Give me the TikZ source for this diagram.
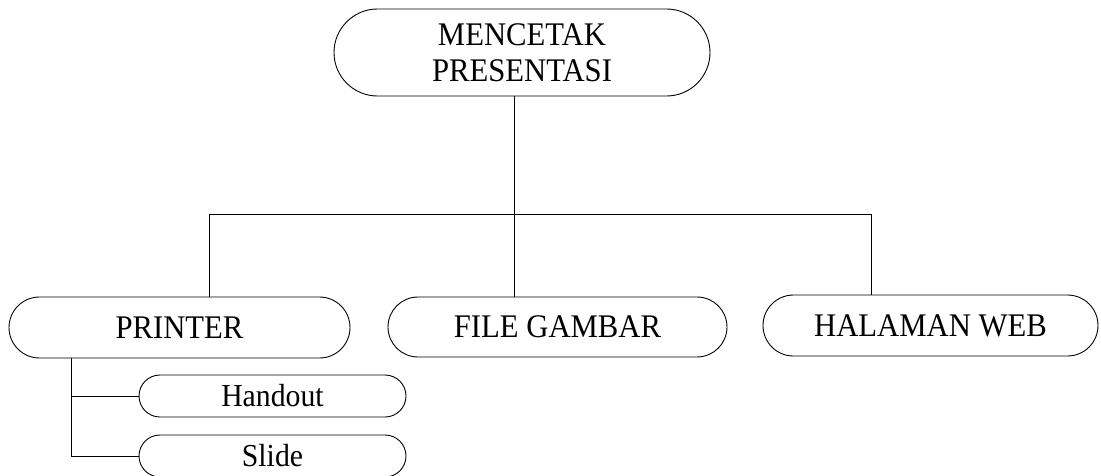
\documentclass[tikz,border=0pt]{standalone}
\usepackage{fontspec}
\setmainfont{Liberation Serif}[FakeStretch=0.93]
\begin{document}
\begin{tikzpicture}[x=1pt,y=-1pt,
  box/.style={draw, line width=0.9pt, rectangle, inner sep=0pt, align=center,
    font=\fontsize{33}{36}\selectfont},
  link/.style={line width=0.9pt}]
\useasboundingbox (0,0) rectangle (1101,475);
\node[box, minimum width=376pt, minimum height=87pt, rounded corners=43.5pt] (top) at (522,52.5) {MENCETAK\\PRESENTASI};
\node[box, minimum width=341pt, minimum height=61pt, rounded corners=30.5pt] (printer) at (179.5,327.5) {PRINTER};
\node[box, minimum width=339pt, minimum height=60pt, rounded corners=30pt] (file) at (557.5,327) {FILE GAMBAR};
\node[box, minimum width=335pt, minimum height=61pt, rounded corners=30.5pt] (web) at (930.5,325.5) {HALAMAN WEB};
\node[box, minimum width=267pt, minimum height=42pt, rounded corners=21pt, font=\fontsize{32}{34}\selectfont] (handout) at (272.5,396) {Handout};
\node[box, minimum width=267pt, minimum height=42pt, rounded corners=21pt, font=\fontsize{32}{34}\selectfont] (slide) at (272.5,456) {Slide};
\coordinate (hl) at (209,214);
\coordinate (hm) at (514,214);
\coordinate (hr) at (871,214);
\coordinate (pl) at (71,400);
\draw[link] (top.south -| hm) -- (hm);
\draw[link] (hl) -- (hr);
\draw[link] (hl) -- (hl |- printer.north);
\draw[link] (hm) -- (hm |- file.north);
\draw[link] (hr) -- (hr |- web.north);
\draw[link] (printer.south -| pl) -- (pl |- slide.west) -- (slide.west);
\draw[link] (pl |- handout.west) -- (handout.west);
\end{tikzpicture}
\end{document}
